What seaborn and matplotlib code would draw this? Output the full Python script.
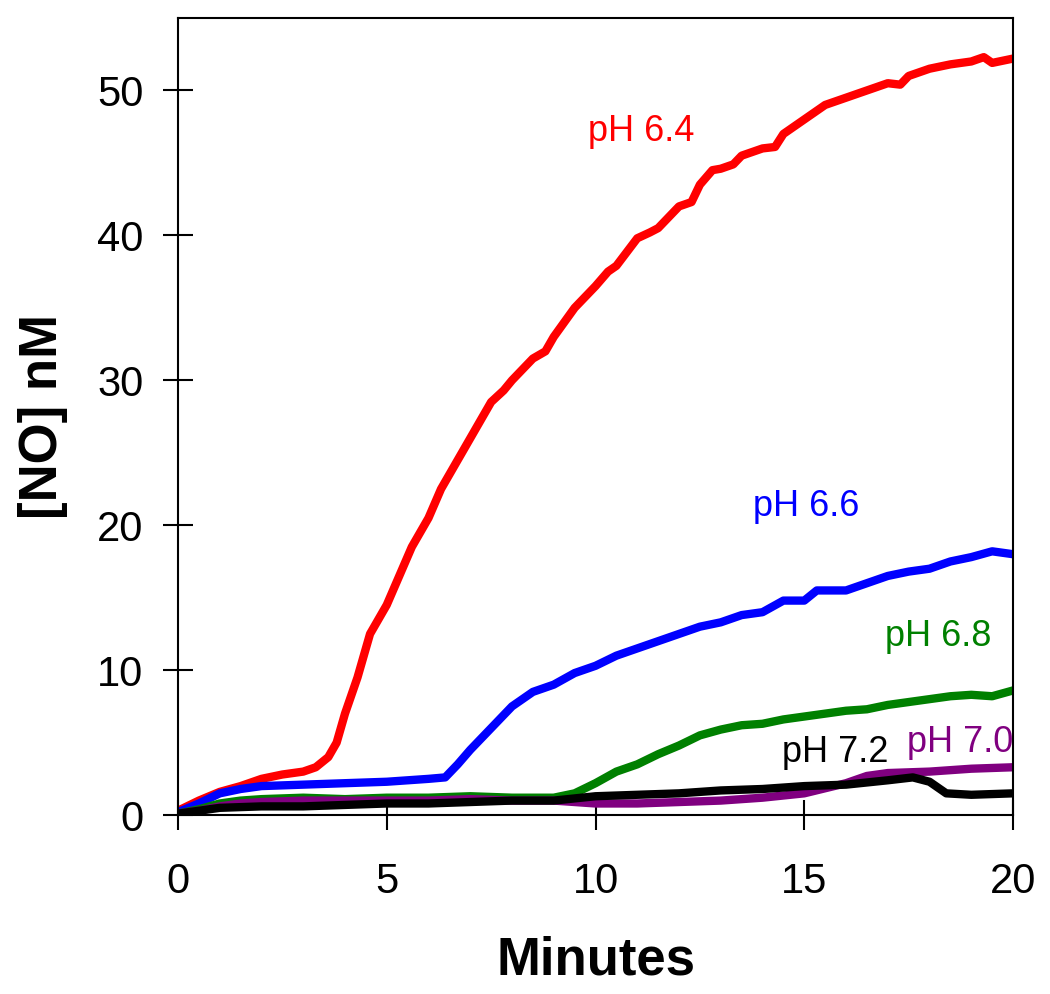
import numpy as np
import pandas as pd
import matplotlib
matplotlib.use("Agg")
import matplotlib.pyplot as plt
import seaborn as sns

# ── data (minutes, [NO] nM) ───────────────────────────────────────────────────
ph64_t = [0, 0.5, 1, 1.5, 2, 2.5, 3, 3.3, 3.6, 3.8, 4.0, 4.3, 4.6, 5.0, 5.3, 5.6,
          6.0, 6.3, 6.6, 7.0, 7.5, 7.8, 8.0, 8.5, 8.8, 9.0, 9.5, 10.0, 10.3,
          10.5, 11.0, 11.3, 11.5, 12.0, 12.3, 12.5, 12.8, 13.0, 13.3, 13.5, 14.0,
          14.3, 14.5, 15.0, 15.5, 16.0, 16.5, 17.0, 17.3, 17.5, 18.0, 18.5, 19.0,
          19.3, 19.5, 20.0]
ph64_v = [0.3, 1.0, 1.6, 2.0, 2.5, 2.8, 3.0, 3.3, 4.0, 5.0, 7.0, 9.5, 12.5, 14.5,
          16.5, 18.5, 20.5, 22.5, 24.0, 26.0, 28.5, 29.3, 30.0, 31.5, 32.0, 33.0,
          35.0, 36.5, 37.5, 37.9, 39.8, 40.2, 40.5, 42.0, 42.3, 43.5, 44.5, 44.6,
          44.9, 45.5, 46.0, 46.1, 47.0, 48.0, 49.0, 49.5, 50.0, 50.5, 50.4, 51.0,
          51.5, 51.8, 52.0, 52.3, 51.9, 52.2]

ph66_t = [0, 0.5, 1, 1.5, 2, 3, 4, 5, 6, 6.4, 6.7, 7.0, 7.5, 8.0, 8.5, 9.0, 9.5,
          10, 10.5, 11, 11.5, 12, 12.5, 13, 13.5, 14, 14.5, 15, 15.3, 16, 16.5,
          17, 17.5, 18, 18.5, 19, 19.5, 20]
ph66_v = [0.2, 0.8, 1.5, 1.8, 2.0, 2.1, 2.2, 2.3, 2.5, 2.6, 3.5, 4.5, 6.0, 7.5,
          8.5, 9.0, 9.8, 10.3, 11.0, 11.5, 12.0, 12.5, 13.0, 13.3, 13.8, 14.0,
          14.8, 14.8, 15.5, 15.5, 16.0, 16.5, 16.8, 17.0, 17.5, 17.8, 18.2, 18.0]

ph68_t = [0, 0.5, 1, 1.5, 2, 3, 4, 5, 6, 7, 8, 9, 9.5, 10, 10.5, 11, 11.5, 12,
          12.5, 13, 13.5, 14, 14.5, 15, 15.5, 16, 16.5, 17, 17.5, 18, 18.5, 19,
          19.5, 20]
ph68_v = [0.1, 0.4, 0.8, 1.0, 1.1, 1.2, 1.1, 1.2, 1.2, 1.3, 1.2, 1.2, 1.5, 2.2,
          3.0, 3.5, 4.2, 4.8, 5.5, 5.9, 6.2, 6.3, 6.6, 6.8, 7.0, 7.2, 7.3, 7.6,
          7.8, 8.0, 8.2, 8.3, 8.2, 8.6]

ph70_t = [0, 0.5, 1, 1.5, 2, 3, 4, 5, 6, 7, 8, 9, 10, 11, 12, 13, 14, 15, 16,
          16.5, 17, 18, 19, 20]
ph70_v = [0.1, 0.3, 0.6, 0.8, 0.9, 1.0, 1.0, 1.0, 1.0, 1.1, 1.0, 1.0, 0.8, 0.8,
          0.9, 1.0, 1.2, 1.5, 2.2, 2.7, 2.9, 3.0, 3.2, 3.3]

ph72_t = [0, 0.5, 1, 2, 3, 4, 5, 6, 7, 8, 9, 10, 11, 12, 13, 14, 15, 16, 17,
          17.6, 18, 18.4, 19, 20]
ph72_v = [0.1, 0.3, 0.5, 0.6, 0.6, 0.7, 0.8, 0.8, 0.9, 1.0, 1.0, 1.3, 1.4, 1.5,
          1.7, 1.8, 2.0, 2.1, 2.4, 2.6, 2.3, 1.5, 1.4, 1.5]

series = ['pH 6.4', 'pH 6.6', 'pH 6.8', 'pH 7.0', 'pH 7.2']
colors = ['#FF0000', '#0000FF', '#008000', '#800080', '#000000']
label_x = [11.1, 15.05, 18.2, 18.73, 15.75]
label_y = [47.2, 21.3, 12.3, 5.0, 4.3]

times = [ph64_t, ph66_t, ph68_t, ph70_t, ph72_t]
values = [ph64_v, ph66_v, ph68_v, ph70_v, ph72_v]

df = pd.concat([pd.DataFrame({'Minutes': t, 'NO': v, 'pH': name})
                for t, v, name in zip(times, values, series)], ignore_index=True)

# ── style ─────────────────────────────────────────────────────────────────────
sns.set_style('white')
plt.rcParams['font.family'] = ['Liberation Sans', 'DejaVu Sans']

fig = plt.figure(figsize=(10.5, 9.94), dpi=100)
ax = fig.add_axes([0.1695, 0.180, 0.7953, 0.8019])

sns.lineplot(data=df, x='Minutes', y='NO', hue='pH', hue_order=series,
             palette=dict(zip(series, colors)), estimator=None, sort=False,
             linewidth=6, legend=False, ax=ax)

for name, c, tx, ty in zip(series, colors, label_x, label_y):
    ax.text(tx, ty, name, color=c, fontsize=26, ha='center', va='center')

ax.set_xlim(0, 20)
ax.set_ylim(0, 55)
ax.set_xticks([0, 5, 10, 15, 20])
ax.set_yticks([0, 10, 20, 30, 40, 50])

for sp in ax.spines.values():
    sp.set_linewidth(1.5)
    sp.set_color('black')

ax.tick_params(axis='both', direction='inout', length=22, width=1.5,
               labelsize=30, colors='black', bottom=True, left=True)
ax.tick_params(axis='x', pad=23)
ax.tick_params(axis='y', pad=14)

ax.set_xlabel('Minutes', fontsize=38, fontweight='bold', color='black')
ax.set_ylabel('[NO] nM', fontsize=38, fontweight='bold', color='black')
ax.xaxis.set_label_coords(0.5, -0.182)
ax.yaxis.set_label_coords(-0.162, 0.5)
ax.xaxis.label.set_va('center')
ax.yaxis.label.set_va('center')

fig.savefig('out.png', dpi=100)
